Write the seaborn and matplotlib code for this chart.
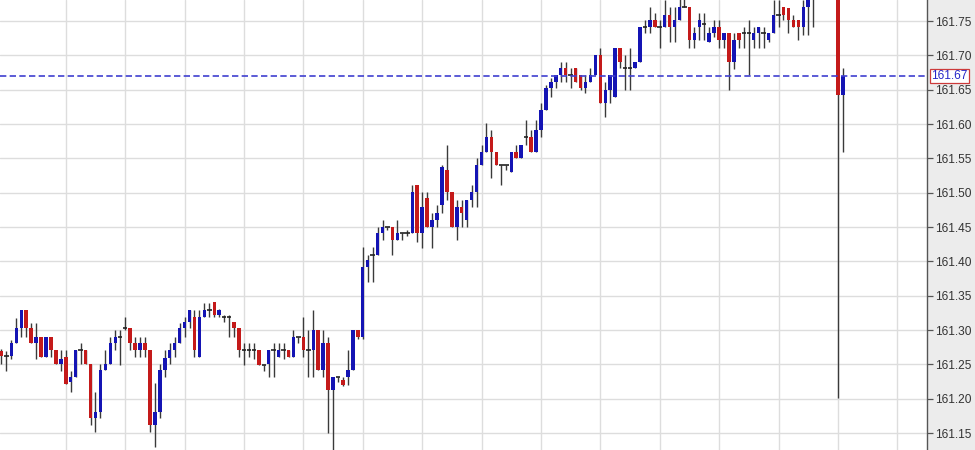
import numpy as np
import pandas as pd
import seaborn as sns
import matplotlib.pyplot as plt
import matplotlib.transforms as mtransforms

# 5-minute bars, position of each bar on the time axis (gap before the last two)
bar_idx = list(range(165)) + [169, 170]

opens = [161.270, 161.262, 161.262, 161.281, 161.303, 161.329, 161.303, 161.281, 161.290, 161.261,
         161.290, 161.271, 161.251, 161.261, 161.224, 161.232, 161.271, 161.271, 161.251, 161.172,
         161.181, 161.242, 161.251, 161.281, 161.290, 161.303, 161.303, 161.281, 161.271, 161.281,
         161.271, 161.162, 161.181, 161.242, 161.259, 161.271, 161.281, 161.303, 161.312, 161.319,
         161.261, 161.319, 161.329, 161.341, 161.322, 161.319, 161.319, 161.312, 161.303, 161.271,
         161.271, 161.271, 161.271, 161.249, 161.251, 161.271, 161.261, 161.271, 161.271, 161.261,
         161.290, 161.290, 161.271, 161.271, 161.300, 161.242, 161.281, 161.213, 161.232, 161.227,
         161.232, 161.242, 161.300, 161.290, 161.392, 161.409, 161.409, 161.441, 161.450, 161.450,
         161.431, 161.441, 161.441, 161.441, 161.511, 161.441, 161.492, 161.450, 161.460, 161.482,
         161.533, 161.501, 161.450, 161.479, 161.460, 161.489, 161.501, 161.540, 161.559, 161.581,
         161.559, 161.540, 161.540, 161.530, 161.559, 161.550, 161.581, 161.581, 161.559, 161.591,
         161.621, 161.652, 161.661, 161.671, 161.682, 161.671, 161.682, 161.671, 161.652, 161.661,
         161.671, 161.701, 161.631, 161.650, 161.639, 161.711, 161.682, 161.682, 161.682, 161.690,
         161.741, 161.741, 161.751, 161.741, 161.741, 161.759, 161.741, 161.751, 161.770, 161.770,
         161.722, 161.741, 161.745, 161.719, 161.732, 161.741, 161.722, 161.732, 161.690, 161.732,
         161.732, 161.732, 161.722, 161.732, 161.732, 161.722, 161.732, 161.759, 161.770, 161.769,
         161.751, 161.751, 161.741, 161.770, 161.781, 161.800, 161.642]
highs = [161.272, 161.270, 161.285, 161.318, 161.329, 161.329, 161.310, 161.310, 161.290, 161.290,
         161.290, 161.271, 161.271, 161.271, 161.240, 161.271, 161.281, 161.271, 161.251, 161.210,
         161.251, 161.271, 161.290, 161.300, 161.300, 161.319, 161.303, 161.290, 161.290, 161.290,
         161.271, 161.223, 161.251, 161.271, 161.281, 161.290, 161.310, 161.319, 161.329, 161.329,
         161.329, 161.339, 161.339, 161.341, 161.331, 161.322, 161.322, 161.312, 161.303, 161.281,
         161.281, 161.281, 161.271, 161.249, 161.271, 161.281, 161.281, 161.281, 161.271, 161.300,
         161.290, 161.319, 161.300, 161.329, 161.300, 161.300, 161.290, 161.232, 161.232, 161.232,
         161.271, 161.300, 161.300, 161.421, 161.409, 161.421, 161.450, 161.460, 161.450, 161.450,
         161.460, 161.441, 161.445, 161.511, 161.511, 161.501, 161.501, 161.470, 161.482, 161.540,
         161.569, 161.501, 161.489, 161.489, 161.489, 161.511, 161.550, 161.569, 161.601, 161.591,
         161.559, 161.540, 161.540, 161.559, 161.569, 161.569, 161.606, 161.591, 161.606, 161.631,
         161.657, 161.667, 161.671, 161.690, 161.690, 161.682, 161.682, 161.671, 161.671, 161.682,
         161.701, 161.711, 161.661, 161.671, 161.711, 161.711, 161.701, 161.711, 161.690, 161.741,
         161.751, 161.770, 161.761, 161.751, 161.781, 161.770, 161.770, 161.785, 161.785, 161.770,
         161.741, 161.761, 161.761, 161.741, 161.751, 161.751, 161.732, 161.732, 161.732, 161.732,
         161.741, 161.751, 161.741, 161.741, 161.741, 161.732, 161.781, 161.781, 161.770, 161.769,
         161.759, 161.751, 161.781, 161.790, 161.810, 161.800, 161.682]
lows = [161.250, 161.240, 161.258, 161.281, 161.290, 161.290, 161.281, 161.258, 161.261, 161.261,
        161.261, 161.251, 161.240, 161.222, 161.210, 161.232, 161.251, 161.251, 161.162, 161.152,
        161.172, 161.242, 161.251, 161.271, 161.249, 161.300, 161.271, 161.261, 161.261, 161.261,
        161.152, 161.130, 161.172, 161.232, 161.251, 161.261, 161.281, 161.290, 161.303, 161.261,
        161.261, 161.319, 161.319, 161.319, 161.319, 161.312, 161.290, 161.290, 161.261, 161.249,
        161.261, 161.258, 161.249, 161.240, 161.232, 161.232, 161.261, 161.258, 161.261, 161.261,
        161.281, 161.261, 161.232, 161.232, 161.242, 161.232, 161.150, 161.120, 161.225, 161.218,
        161.220, 161.242, 161.287, 161.287, 161.370, 161.370, 161.409, 161.431, 161.445, 161.409,
        161.431, 161.431, 161.437, 161.441, 161.428, 161.420, 161.450, 161.420, 161.450, 161.470,
        161.489, 161.450, 161.431, 161.450, 161.450, 161.479, 161.479, 161.540, 161.559, 161.521,
        161.540, 161.511, 161.533, 161.530, 161.550, 161.550, 161.569, 161.559, 161.559, 161.581,
        161.621, 161.639, 161.652, 161.661, 161.661, 161.652, 161.661, 161.650, 161.645, 161.661,
        161.671, 161.631, 161.610, 161.631, 161.639, 161.682, 161.650, 161.650, 161.682, 161.690,
        161.732, 161.732, 161.741, 161.711, 161.741, 161.720, 161.720, 161.751, 161.770, 161.711,
        161.711, 161.722, 161.722, 161.719, 161.727, 161.711, 161.711, 161.650, 161.680, 161.711,
        161.711, 161.671, 161.711, 161.711, 161.711, 161.719, 161.732, 161.741, 161.751, 161.732,
        161.741, 161.722, 161.730, 161.730, 161.741, 161.201, 161.559]
closes = [161.262, 161.262, 161.281, 161.303, 161.329, 161.303, 161.281, 161.290, 161.261, 161.290,
          161.271, 161.251, 161.258, 161.222, 161.232, 161.271, 161.271, 161.251, 161.172, 161.181,
          161.242, 161.251, 161.281, 161.290, 161.290, 161.303, 161.281, 161.271, 161.281, 161.271,
          161.162, 161.181, 161.242, 161.259, 161.271, 161.281, 161.303, 161.312, 161.329, 161.271,
          161.319, 161.329, 161.329, 161.322, 161.329, 161.319, 161.319, 161.303, 161.271, 161.271,
          161.271, 161.271, 161.249, 161.249, 161.271, 161.271, 161.271, 161.271, 161.261, 161.290,
          161.290, 161.271, 161.271, 161.300, 161.242, 161.281, 161.213, 161.232, 161.232, 161.220,
          161.242, 161.300, 161.290, 161.392, 161.402, 161.409, 161.441, 161.450, 161.450, 161.431,
          161.441, 161.441, 161.441, 161.501, 161.441, 161.479, 161.450, 161.460, 161.470, 161.537,
          161.501, 161.450, 161.479, 161.470, 161.489, 161.501, 161.540, 161.559, 161.581, 161.559,
          161.540, 161.540, 161.540, 161.559, 161.550, 161.569, 161.581, 161.559, 161.591, 161.621,
          161.652, 161.661, 161.671, 161.682, 161.671, 161.671, 161.661, 161.652, 161.661, 161.671,
          161.701, 161.631, 161.650, 161.671, 161.711, 161.690, 161.682, 161.682, 161.690, 161.741,
          161.741, 161.751, 161.741, 161.741, 161.759, 161.741, 161.751, 161.770, 161.770, 161.722,
          161.732, 161.751, 161.745, 161.732, 161.741, 161.722, 161.732, 161.690, 161.722, 161.722,
          161.732, 161.732, 161.732, 161.741, 161.732, 161.732, 161.759, 161.759, 161.759, 161.751,
          161.741, 161.741, 161.770, 161.781, 161.800, 161.642, 161.670]

last_price = 161.67
y_ticks = [161.15, 161.20, 161.25, 161.30, 161.35, 161.40, 161.45, 161.50,
           161.55, 161.60, 161.65, 161.70, 161.75]

df = pd.DataFrame({'bar': bar_idx, 'open': opens, 'high': highs, 'low': lows, 'close': closes})
df['body_lo'] = df[['open', 'close']].min(axis=1)
df['body_h'] = (df['close'] - df['open']).abs()
df['dir'] = np.sign(df['close'] - df['open'])

sns.set_theme(style="whitegrid", rc={'grid.color': '#dddddd', 'grid.linewidth': 1.0})
plt.rcParams['font.family'] = ['Liberation Sans', 'DejaVu Sans']

fig = plt.figure(figsize=(9.75, 4.5), dpi=100)
fig.patch.set_facecolor('#ececec')
ax = fig.add_axes([0, 0, 927 / 975, 1])
ax.set_facecolor('white')

# wicks
ax.vlines(df['bar'], df['low'], df['high'], color='#3a3a3a', linewidth=1.0, zorder=2)

# bodies: blue up, red down
up = df[df['dir'] > 0]
dn = df[df['dir'] < 0]
ax.bar(up['bar'], up['body_h'], bottom=up['body_lo'], width=0.7, color='#1414b4', linewidth=0, zorder=3)
ax.bar(dn['bar'], dn['body_h'], bottom=dn['body_lo'], width=0.7, color='#c41a1a', linewidth=0, zorder=3)

# doji bars get a small flat tick
dj = df[df['dir'] == 0]
ax.hlines(dj['close'], dj['bar'] - 0.45, dj['bar'] + 0.45, color='#222222', linewidth=1.2, zorder=3)

# current price line + label on the axis
ax.axhline(last_price, color='#4040d0', linewidth=1.2, linestyle=(0, (3.8, 2.0)), zorder=4)
trans = mtransforms.blended_transform_factory(ax.transAxes, ax.transData)
ax.text(1.0045, last_price, f'{last_price:.2f}', transform=trans, ha='left', va='center',
        fontsize=8.6, color='#2626c8', zorder=6,
        bbox=dict(facecolor='white', edgecolor='#cc3a3a', boxstyle='square,pad=0.12', linewidth=0.9))

# axes setup
ax.set_xlim(-0.29, 187)
ax.set_ylim(161.1253, 161.7806)
ax.set_xticks(range(13, 187, 12))
ax.tick_params(axis='x', length=0, labelbottom=False)
ax.set_yticks(y_ticks)
ax.set_yticklabels([f'{v:.2f}' for v in y_ticks])
ax.yaxis.tick_right()
ax.tick_params(axis='y', direction='out', length=4, width=0.9, color='#555555',
               labelsize=8.6, labelcolor='#333333', pad=1.5, right=True, left=False)
ax.grid(True, color='#dddddd', linewidth=1.0)
ax.set_axisbelow(True)

for side in ['left', 'top', 'bottom']:
    ax.spines[side].set_visible(False)
ax.spines['right'].set_color('#555555')
ax.spines['right'].set_linewidth(1.0)

fig.savefig('out.png', dpi=100, facecolor=fig.get_facecolor())
